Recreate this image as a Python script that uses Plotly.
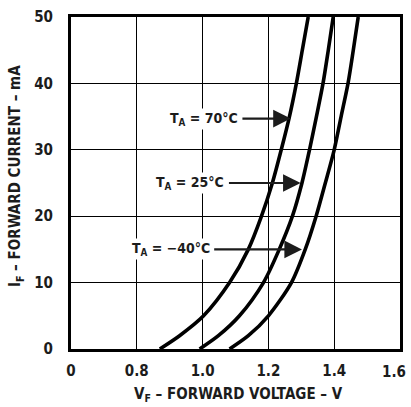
import plotly.graph_objects as go

# ---- data ----
current_ma = [0, 2, 5, 10, 15, 20, 25, 30, 35, 40, 45, 50]
vf_70c = [0.870, 0.930, 1.003, 1.082, 1.139, 1.179, 1.212, 1.239, 1.264, 1.285, 1.303, 1.321]
vf_25c = [0.991, 1.048, 1.112, 1.185, 1.233, 1.273, 1.302, 1.325, 1.346, 1.366, 1.382, 1.397]
vf_m40c = [1.082, 1.139, 1.200, 1.270, 1.312, 1.345, 1.373, 1.400, 1.421, 1.442, 1.458, 1.473]

x_tick_volts = [0, 0.8, 1.0, 1.2, 1.4, 1.6]
x_tick_labels = ["0", "0.8", "1.0", "1.2", "1.4", "1.6"]
y_ticks = [0, 10, 20, 30, 40, 50]

labels = ["T<sub>A</sub> = 70°C", "T<sub>A</sub> = 25°C", "T<sub>A</sub> = −40°C"]
label_ma = [34.7, 25.0, 15.0]          # height of each label / arrow
label_center_v = [1.004, 0.963, 0.903] # voltage at centre of label text
arrow_head_v = [1.268, 1.298, 1.302]

# broken x axis: 0 .. 0.8 shown as one grid division
def xpos(v):
    return 0.0 if v == 0 else round((v - 0.6) / 0.2, 6)

FONT = "Liberation Sans Narrow, DejaVu Sans Condensed, Arial, sans-serif"
INK = "#1c1c1c"
W, H = 411, 407
ML, MR, MT, MB = 71, 8, 12, 58

fig = go.Figure()
for vals in (vf_70c, vf_25c, vf_m40c):
    fig.add_trace(go.Scatter(
        x=[xpos(v) for v in vals], y=current_ma, mode="lines",
        line=dict(color="black", width=3.6, shape="spline", smoothing=0.8),
        showlegend=False, hoverinfo="skip"))

annotations = []
for txt, ma, cv, hv in zip(labels, label_ma, label_center_v, arrow_head_v):
    annotations.append(dict(
        x=xpos(hv), y=ma, ax=xpos(cv), ay=ma, xref="x", yref="y",
        axref="x", ayref="y", text=txt, showarrow=True,
        arrowhead=2, arrowsize=1.6, arrowwidth=2.2, arrowcolor=INK,
        standoff=0, startstandoff=3, bgcolor="white", borderpad=1,
        font=dict(family=FONT, size=14, color=INK, weight="bold")))

tickfont = dict(family=FONT, size=15, color=INK, weight="bold")
# last x tick label sits at the right edge of the page; keep it inside the page
last_label = x_tick_labels[-1]
shown_labels = x_tick_labels[:-1] + [""]
annotations.append(dict(
    x=(W - ML) / (W - ML - MR), y=0, xref="paper", yref="paper",
    yshift=-23, text=last_label, showarrow=False,
    xanchor="right", yanchor="middle", font=tickfont))

annotations.append(dict(
    x=-0.168, y=0.52, xref="paper", yref="paper", textangle=-90,
    text="I<sub>F</sub> – FORWARD CURRENT – mA", showarrow=False,
    xanchor="center", yanchor="middle",
    font=dict(family=FONT, size=15, color=INK, weight="bold")))
annotations.append(dict(
    x=0.51, y=-0.137, xref="paper", yref="paper",
    text="V<sub>F</sub> – FORWARD VOLTAGE – V", showarrow=False,
    xanchor="center", yanchor="middle",
    font=dict(family=FONT, size=15, color=INK, weight="bold")))

fig.update_layout(
    width=W, height=H, autosize=False,
    margin=dict(l=ML, r=MR, t=MT, b=MB),
    paper_bgcolor="white", plot_bgcolor="white",
    annotations=annotations,
    xaxis=dict(range=[0, 5], tickvals=[xpos(v) for v in x_tick_volts],
               ticktext=shown_labels, showgrid=True, gridcolor="black",
               gridwidth=1.4, zeroline=False, showline=True, linecolor="black",
               linewidth=3, mirror=True, ticks="", ticklabelstandoff=6,
               tickfont=tickfont),
    yaxis=dict(range=[0, 50], tickvals=y_ticks, showgrid=True, gridcolor="black",
               gridwidth=1.4, zeroline=False, showline=True, linecolor="black",
               linewidth=3, mirror=True, ticks="", ticklabelstandoff=12,
               ticklabeloverflow="allow", tickfont=tickfont),
)

fig.write_html("out.html", config={"displayModeBar": False},
               post_script="document.body.style.margin='0';document.body.style.overflow='hidden';")
